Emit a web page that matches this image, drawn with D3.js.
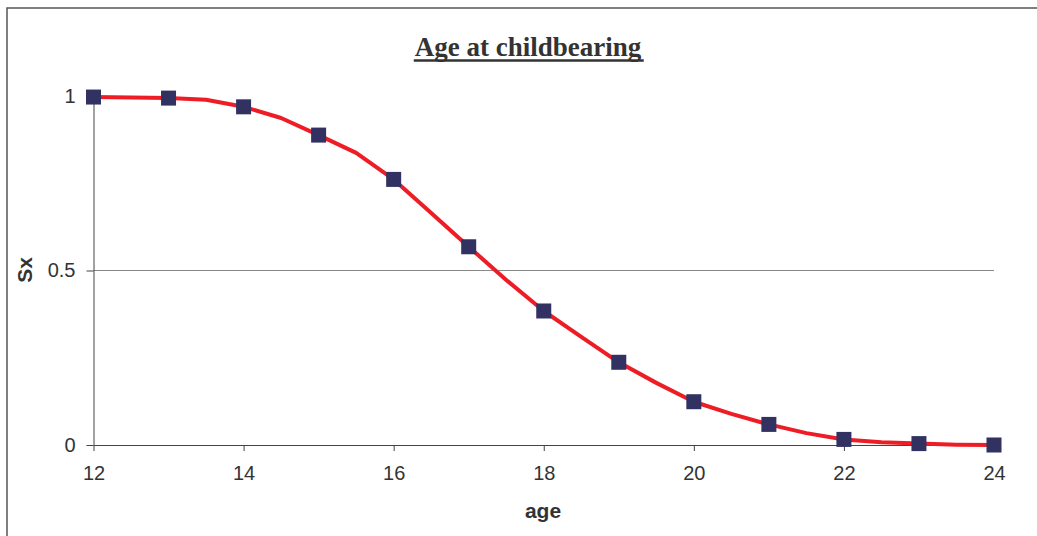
<!DOCTYPE html>
<html>
<head>
<meta charset="utf-8">
<script src="https://cdn.jsdelivr.net/npm/d3@7"></script>
<style>
  html, body { margin: 0; padding: 0; background: #fff; }
  svg { display: block; }
</style>
</head>
<body>
<svg id="chart" width="1037" height="536"></svg>
<script>
// ---- data ----
const markerAges = [12, 13, 14, 15, 16, 17, 18, 19, 20, 21, 22, 23, 24];
const markerSx = [0.997, 0.994, 0.969, 0.888, 0.761, 0.568, 0.384, 0.237, 0.124, 0.059, 0.016, 0.004, 0.0];
const lineAges = [12, 12.5, 13, 13.5, 14, 14.5, 15, 15.5, 16, 16.5, 17, 17.5, 18, 18.5, 19, 19.5, 20, 20.5, 21, 21.5, 22, 22.5, 23, 23.5, 24];
const lineSx = [0.997, 0.996, 0.994, 0.989, 0.969, 0.937, 0.888, 0.837, 0.761, 0.665, 0.568, 0.473, 0.384, 0.310, 0.237, 0.178, 0.124, 0.089, 0.059, 0.034, 0.016, 0.008, 0.004, 0.001, 0.0];
const xTicks = [12, 14, 16, 18, 20, 22, 24];
const yTicks = [0, 0.5, 1];
const yTickLabels = ["0", "0.5", "1"];
const titleText = "Age at childbearing";
const xLabel = "age";
const yLabel = "Sx";

// ---- layout ----
const svg = d3.select("#chart");
const x = d3.scaleLinear().domain([12, 24]).range([93.5, 994]);
const y = d3.scaleLinear().domain([0, 1]).range([445, 96]);
const sans = "Liberation Sans, Arial, sans-serif";

// outer border
svg.append("rect")
  .attr("x", 7).attr("y", 8).attr("width", 1040).attr("height", 540)
  .attr("fill", "none").attr("stroke", "#555").attr("stroke-width", 1.5);

// gridline at 0.5
svg.append("line")
  .attr("x1", x(12)).attr("x2", x(24))
  .attr("y1", y(0.5)).attr("y2", y(0.5))
  .attr("stroke", "#888").attr("stroke-width", 1.2);

// axes
const xAxis = d3.axisBottom(x).tickValues(xTicks).tickSize(6).tickSizeOuter(0).tickPadding(15);
const gx = svg.append("g").attr("transform", `translate(0,${y(0)})`).call(xAxis);
gx.select(".domain").attr("stroke", "#444");
gx.selectAll(".tick line").attr("stroke", "#444");
gx.selectAll(".tick text").attr("fill", "#333")
  .style("font-family", sans).style("font-size", "20px");

const yAxis = d3.axisLeft(y).tickValues(yTicks).tickFormat((d, i) => yTickLabels[i])
  .tickSize(7).tickSizeOuter(0).tickPadding(11);
const gy = svg.append("g").attr("transform", `translate(${x(12)},0)`).call(yAxis);
gy.select(".domain").attr("stroke", "#444");
gy.selectAll(".tick line").attr("stroke", "#444");
gy.selectAll(".tick text").attr("fill", "#333")
  .style("font-family", sans).style("font-size", "20px");

// line
const lineData = lineAges.map((a, i) => ({ a, v: lineSx[i] }));
svg.append("path")
  .datum(lineData)
  .attr("fill", "none")
  .attr("stroke", "#ee1c25")
  .attr("stroke-width", 4)
  .attr("stroke-linejoin", "round")
  .attr("d", d3.line().x(d => x(d.a)).y(d => y(d.v)).curve(d3.curveLinear));

// markers
const ms = 15;
svg.selectAll("rect.mk")
  .data(markerAges.map((a, i) => ({ a, v: markerSx[i] })))
  .enter().append("rect")
  .attr("class", "mk")
  .attr("x", d => x(d.a) - ms / 2)
  .attr("y", d => y(d.v) - ms / 2)
  .attr("width", ms).attr("height", ms)
  .attr("fill", "#313262");

// title
const title = svg.append("text")
  .attr("x", 528).attr("y", 56)
  .attr("text-anchor", "middle")
  .attr("fill", "#333")
  .style("font-family", "Liberation Serif, Times New Roman, serif")
  .style("font-weight", "bold")
  .style("font-size", "27px")
  .text(titleText);
const tb = title.node().getBBox();
svg.append("line")
  .attr("x1", tb.x - 1).attr("x2", tb.x + tb.width + 2)
  .attr("y1", 60.5).attr("y2", 60.5)
  .attr("stroke", "#333").attr("stroke-width", 2.5);

// axis labels
svg.append("text")
  .attr("x", 543).attr("y", 518)
  .attr("text-anchor", "middle")
  .attr("fill", "#333")
  .style("font-family", sans)
  .style("font-weight", "bold").style("font-size", "21px")
  .text(xLabel);

svg.append("text")
  .attr("transform", `translate(32,270) rotate(-90)`)
  .attr("text-anchor", "middle")
  .attr("fill", "#333")
  .style("font-family", sans)
  .style("font-weight", "bold").style("font-size", "21px")
  .text(yLabel);
</script>
</body>
</html>
